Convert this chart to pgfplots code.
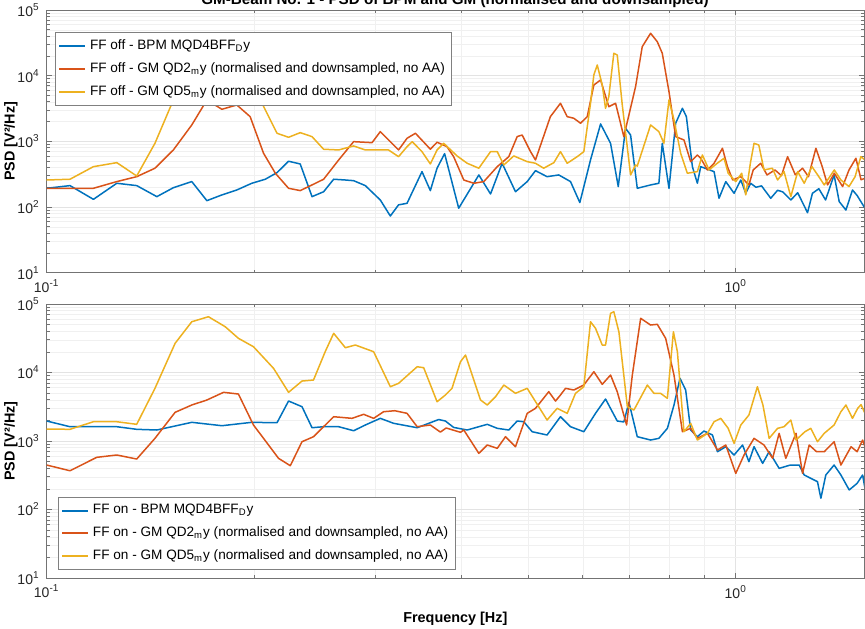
\documentclass[border=0pt]{standalone}
\usepackage{fontspec}
\setmainfont{Liberation Sans}
\usepackage{pgfplots}
\pgfplotsset{compat=1.18}
\definecolor{mblue}{rgb}{0,0.447,0.741}
\definecolor{mred}{rgb}{0.85,0.325,0.098}
\definecolor{myel}{rgb}{0.929,0.694,0.125}
\begin{document}
\begin{tikzpicture}
\begin{axis}[height=131.35pt, at={(23.35pt,-136.35pt)}, anchor=south west,
  legend style={at={(0.0102,0.916)}, anchor=north west},
  xmode=log, ymode=log, scale only axis, width=408.65pt,
  xmin=0.1, xmax=1.535, ymin=10, ymax=100000,
  xtick={0.1,1}, xticklabels={10\textsuperscript{-1},10\textsuperscript{0}},
  minor xtick={0.2,0.3,0.4,0.5,0.6,0.7,0.8,0.9},
  ytick={10,100,1000,10000,100000},
  yticklabels={10\textsuperscript{1},10\textsuperscript{2},10\textsuperscript{3},10\textsuperscript{4},10\textsuperscript{5}},
  minor ytick={20,30,40,50,60,70,80,90,200,300,400,500,600,700,800,900,2000,3000,4000,5000,6000,7000,8000,9000,20000,30000,40000,50000,60000,70000,80000,90000},
  grid=both,
  major grid style={gray!22, line width=0.3pt},
  minor grid style={gray!12, line width=0.25pt},
  axis line style={black!55, line width=0.4pt},
  tick style={black!55, line width=0.4pt},
  tick align=inside, major tick length=2.5pt, minor tick length=1.5pt,
  ticklabel style={font=\fontsize{7}{8}\selectfont, text=black!85},
  ylabel={PSD [V²/Hz]},
  ylabel style={at={(axis description cs:-0.0437,0.5)}, anchor=center},
  label style={font=\fontsize{7.2}{8}\selectfont\bfseries},
  legend cell align=left,
  legend image code/.code={\draw[line width=1pt] (0cm,0cm) -- (0.45cm,0cm);},
  legend style={font=\fontsize{6.8}{8}\selectfont, draw=black!50, line width=0.4pt, fill=white, inner sep=1.5pt, row sep=1pt},
  every axis plot/.append style={line width=0.75pt, line join=round}]
\addplot[mblue] coordinates {(0.1,193)(0.1081,212)(0.1169,131)(0.1264,230)(0.1351,212)(0.1445,144)(0.1527,197)(0.1624,244)(0.1708,125)(0.1796,153)(0.1888,182)(0.1985,230)(0.2076,265)(0.2159,334)(0.2244,498)(0.2333,453)(0.2427,144)(0.2523,171)(0.2609,265)(0.2713,258)(0.2789,252)(0.2900,212)(0.3049,128)(0.3153,73)(0.3241,108)(0.3334,114)(0.3505,346)(0.3604,178)(0.3686,390)(0.3780,650)(0.3963,96)(0.4238,308)(0.4407,158)(0.4581,464)(0.4790,171)(0.4981,244)(0.5121,358)(0.5323,290)(0.5536,308)(0.5757,244)(0.5939,117)(0.6155,521)(0.6366,1840)(0.6581,935)(0.6753,205)(0.6920,1582)(0.7037,1250)(0.7196,193)(0.7524,217)(0.7736,230)(0.7824,935)(0.8000,193)(0.8180,1888)(0.8367,3190)(0.8479,2377)(0.8651,412)(0.8796,230)(0.8895,412)(0.9301,346)(0.9456,136)(0.9672,244)(0.9943,162)(1.017,258)(1.034,162)(1.051,230)(1.07,200)(1.09,210)(1.124,136)(1.15,180)(1.17,170)(1.202,128)(1.23,165)(1.271,82)(1.292,162)(1.32,190)(1.35,128)(1.389,308)(1.413,121)(1.445,90)(1.477,182)(1.50,150)(1.54,96)};
\addlegendentry{FF off - BPM MQD4BFF\textsubscript{D}y}
\addplot[mred] coordinates {(0.1,193)(0.1081,193)(0.1169,193)(0.1264,244)(0.1351,290)(0.1436,390)(0.1527,740)(0.1624,1778)(0.1708,4266)(0.1796,3080)(0.1888,3580)(0.1974,2377)(0.2064,659)(0.2147,327)(0.2244,193)(0.2333,178)(0.2427,217)(0.2523,265)(0.2653,521)(0.2789,990)(0.2966,955)(0.3049,1406)(0.3241,740)(0.3334,1114)(0.3429,1328)(0.3604,760)(0.3686,970)(0.3811,830)(0.3896,585)(0.4030,258)(0.4167,230)(0.4309,244)(0.4507,412)(0.4684,585)(0.4817,1180)(0.4898,1250)(0.5037,697)(0.5121,521)(0.5382,2377)(0.5567,3800)(0.5694,2377)(0.5821,2248)(0.5953,1888)(0.6088,2377)(0.6224,7210)(0.6366,8600)(0.6543,3375)(0.6693,3800)(0.6880,1180)(0.7155,6800)(0.7317,27640)(0.7524,44200)(0.7694,32930)(0.7824,21930)(0.8000,5710)(0.8180,1180)(0.8411,1050)(0.8602,491)(0.8796,621)(0.8895,553)(0.9097,367)(0.93,464)(0.9565,785)(0.9725,412)(0.99,258)(1.017,290)(1.045,217)(1.06,367)(1.087,464)(1.11,308)(1.14,367)(1.165,300)(1.189,585)(1.22,310)(1.25,390)(1.275,290)(1.307,785)(1.335,412)(1.359,217)(1.39,327)(1.429,205)(1.46,367)(1.494,553)(1.52,260)(1.54,274)};
\addlegendentry{FF off - GM QD2\textsubscript{m}y (normalised and downsampled, no AA)}
\addplot[myel] coordinates {(0.1,258)(0.1081,265)(0.1169,412)(0.1264,474)(0.1351,297)(0.1436,935)(0.1527,4266)(0.1624,12000)(0.1708,25000)(0.1796,20000)(0.1888,22000)(0.1974,11000)(0.2042,4266)(0.2159,1328)(0.2244,1154)(0.2333,1356)(0.2427,1180)(0.2523,758)(0.2653,740)(0.2789,851)(0.2900,740)(0.3134,740)(0.3241,585)(0.3334,830)(0.3392,990)(0.3505,697)(0.3604,453)(0.3686,740)(0.3768,935)(0.3941,600)(0.4076,464)(0.4238,390)(0.4407,697)(0.4507,697)(0.4607,437)(0.4763,600)(0.4981,491)(0.5121,464)(0.5263,390)(0.5445,474)(0.5567,697)(0.5694,464)(0.5888,585)(0.6019,697)(0.6155,3800)(0.6224,10250)(0.6295,14550)(0.6401,7210)(0.6472,3190)(0.6543,4790)(0.6654,21930)(0.6730,20650)(0.6844,3580)(0.7037,308)(0.7155,437)(0.7196,420)(0.7524,1778)(0.7736,1406)(0.7866,935)(0.8000,4266)(0.8135,2118)(0.8319,659)(0.8507,327)(0.8796,346)(0.8945,621)(0.9146,367)(0.94,464)(0.9616,553)(0.975,327)(1.0,244)(1.02,327)(1.034,153)(1.05,464)(1.063,935)(1.08,880)(1.099,367)(1.13,390)(1.150,258)(1.175,346)(1.202,144)(1.23,346)(1.257,230)(1.29,412)(1.32,290)(1.344,217)(1.39,367)(1.421,258)(1.46,205)(1.49,290)(1.519,585)(1.54,521)};
\addlegendentry{FF off - GM QD5\textsubscript{m}y (normalised and downsampled, no AA)}
\end{axis}
\begin{axis}[height=137pt, at={(23.35pt,-289pt)}, anchor=south west,
  xlabel={Frequency [Hz]},
  legend style={at={(0.0138,0.029)}, anchor=south west},
  xmode=log, ymode=log, scale only axis, width=408.65pt,
  xmin=0.1, xmax=1.535, ymin=10, ymax=100000,
  xtick={0.1,1}, xticklabels={10\textsuperscript{-1},10\textsuperscript{0}},
  minor xtick={0.2,0.3,0.4,0.5,0.6,0.7,0.8,0.9},
  ytick={10,100,1000,10000,100000},
  yticklabels={10\textsuperscript{1},10\textsuperscript{2},10\textsuperscript{3},10\textsuperscript{4},10\textsuperscript{5}},
  minor ytick={20,30,40,50,60,70,80,90,200,300,400,500,600,700,800,900,2000,3000,4000,5000,6000,7000,8000,9000,20000,30000,40000,50000,60000,70000,80000,90000},
  grid=both,
  major grid style={gray!22, line width=0.3pt},
  minor grid style={gray!12, line width=0.25pt},
  axis line style={black!55, line width=0.4pt},
  tick style={black!55, line width=0.4pt},
  tick align=inside, major tick length=2.5pt, minor tick length=1.5pt,
  ticklabel style={font=\fontsize{7}{8}\selectfont, text=black!85},
  ylabel={PSD [V²/Hz]},
  ylabel style={at={(axis description cs:-0.0437,0.5)}, anchor=center},
  label style={font=\fontsize{7.2}{8}\selectfont\bfseries},
  legend cell align=left,
  legend image code/.code={\draw[line width=1pt] (0cm,0cm) -- (0.45cm,0cm);},
  legend style={font=\fontsize{6.8}{8}\selectfont, draw=black!50, line width=0.4pt, fill=white, inner sep=1.5pt, row sep=1pt},
  every axis plot/.append style={line width=0.75pt, line join=round}]
\addplot[mblue] coordinates {(0.1,1959)(0.1081,1618)(0.1264,1618)(0.1351,1482)(0.1445,1448)(0.1624,1875)(0.1796,1673)(0.1985,1875)(0.2159,1849)(0.2244,3837)(0.2347,3170)(0.2427,1564)(0.2523,1618)(0.2653,1618)(0.2789,1414)(0.2900,1713)(0.3049,2144)(0.3188,1813)(0.3449,1564)(0.3706,2060)(0.3790,1959)(0.3896,1580)(0.4076,1448)(0.4359,1753)(0.4507,1532)(0.4684,1448)(0.4817,1959)(0.4924,1913)(0.5064,1367)(0.5323,1224)(0.5567,2264)(0.5757,1618)(0.6019,1367)(0.6259,2537)(0.6472,4102)(0.6730,1959)(0.6880,1900)(0.6998,3672)(0.7196,1156)(0.7524,1034)(0.7736,1094)(0.7958,1532)(0.8135,3355)(0.8300,8226)(0.8459,5555)(0.8602,1448)(0.8796,1156)(0.8993,1400)(0.9251,1224)(0.9406,698)(0.9672,826)(0.9943,625)(1.023,874)(1.045,499)(1.063,826)(1.094,472)(1.118,698)(1.156,399)(1.20,446)(1.236,446)(1.257,319)(1.314,255)(1.329,146)(1.351,319)(1.389,446)(1.421,319)(1.461,193)(1.50,241)(1.528,319)(1.54,204)};
\addlegendentry{FF on - BPM MQD4BFF\textsubscript{D}y}
\addplot[mred] coordinates {(0.1,446)(0.1081,368)(0.1182,578)(0.1264,625)(0.1351,546)(0.1436,1094)(0.1536,2624)(0.1624,3355)(0.1708,3970)(0.1806,5140)(0.1898,4853)(0.1996,1713)(0.2064,1094)(0.2170,559)(0.2257,436)(0.2347,977)(0.2439,1156)(0.2609,2264)(0.2774,2144)(0.2884,2454)(0.2982,2144)(0.3083,2678)(0.3200,2770)(0.3334,2537)(0.3449,1618)(0.3604,1713)(0.3727,1350)(0.3800,1550)(0.3986,1340)(0.4030,1448)(0.4238,661)(0.4359,874)(0.4507,782)(0.4633,1156)(0.4790,826)(0.4981,2537)(0.5121,3000)(0.5353,5244)(0.5476,3837)(0.5567,4696)(0.5662,5878)(0.5821,5555)(0.6019,6570)(0.6224,10270)(0.6401,6724)(0.6581,9197)(0.6730,5244)(0.6944,1713)(0.7078,9197)(0.7278,61830)(0.7524,49360)(0.7694,50560)(0.7913,31570)(0.8135,9197)(0.8367,1367)(0.8602,1532)(0.8796,1094)(0.9097,1296)(0.9406,739)(0.9672,874)(1.0,337)(1.028,625)(1.063,1094)(1.099,874)(1.131,559)(1.156,1296)(1.182,559)(1.223,1296)(1.250,337)(1.278,874)(1.31,698)(1.344,698)(1.389,977)(1.421,446)(1.470,826)(1.50,698)(1.528,1034)(1.54,826)};
\addlegendentry{FF on - GM QD2\textsubscript{m}y (normalised and downsampled, no AA)}
\addplot[myel] coordinates {(0.1,1497)(0.1081,1482)(0.1169,1913)(0.1264,1913)(0.1351,1753)(0.1436,5878)(0.1536,26690)(0.1624,55150)(0.1717,65270)(0.1816,46620)(0.1898,31570)(0.1996,23810)(0.2134,11520)(0.2244,5140)(0.2347,7510)(0.2439,7777)(0.2536,20120)(0.2609,37350)(0.2713,23020)(0.2805,25210)(0.2982,20120)(0.3153,6205)(0.3241,6955)(0.3449,12150)(0.3525,11750)(0.3686,3748)(0.3790,4696)(0.3875,5878)(0.3986,14380)(0.4053,18000)(0.4262,3970)(0.4359,3355)(0.4481,4432)(0.4607,6570)(0.4790,4970)(0.4981,5878)(0.5323,2026)(0.5506,3000)(0.5694,2537)(0.5854,4970)(0.6019,6205)(0.6155,55150)(0.6259,44170)(0.6401,25210)(0.6472,25210)(0.6581,73160)(0.6654,77200)(0.6767,39420)(0.6961,3170)(0.7116,2836)(0.7443,6570)(0.7609,4970)(0.7780,4970)(0.7958,4198)(0.8119,39420)(0.8228,20120)(0.8411,1367)(0.8602,1813)(0.8796,1034)(0.9097,1296)(0.9301,1913)(0.9511,2144)(0.975,1532)(0.9943,925)(1.017,1713)(1.045,2398)(1.075,6205)(1.095,3355)(1.118,1094)(1.15,1532)(1.175,1618)(1.202,2026)(1.223,1034)(1.26,1367)(1.285,1532)(1.314,977)(1.344,1296)(1.389,1713)(1.421,2678)(1.445,3355)(1.477,2144)(1.503,3000)(1.52,3400)(1.54,2537)};
\addlegendentry{FF on - GM QD5\textsubscript{m}y (normalised and downsampled, no AA)}
\end{axis}
\node[font=\fontsize{7.6}{9}\selectfont\bfseries, anchor=base] at (227.5pt,-2pt) {GM-Beam No. 1 - PSD of BPM and GM (normalised and downsampled)};
\pgfresetboundingbox
\path[use as bounding box] (0pt,0pt) rectangle (432.5pt,-314pt);
\end{tikzpicture}
\end{document}
